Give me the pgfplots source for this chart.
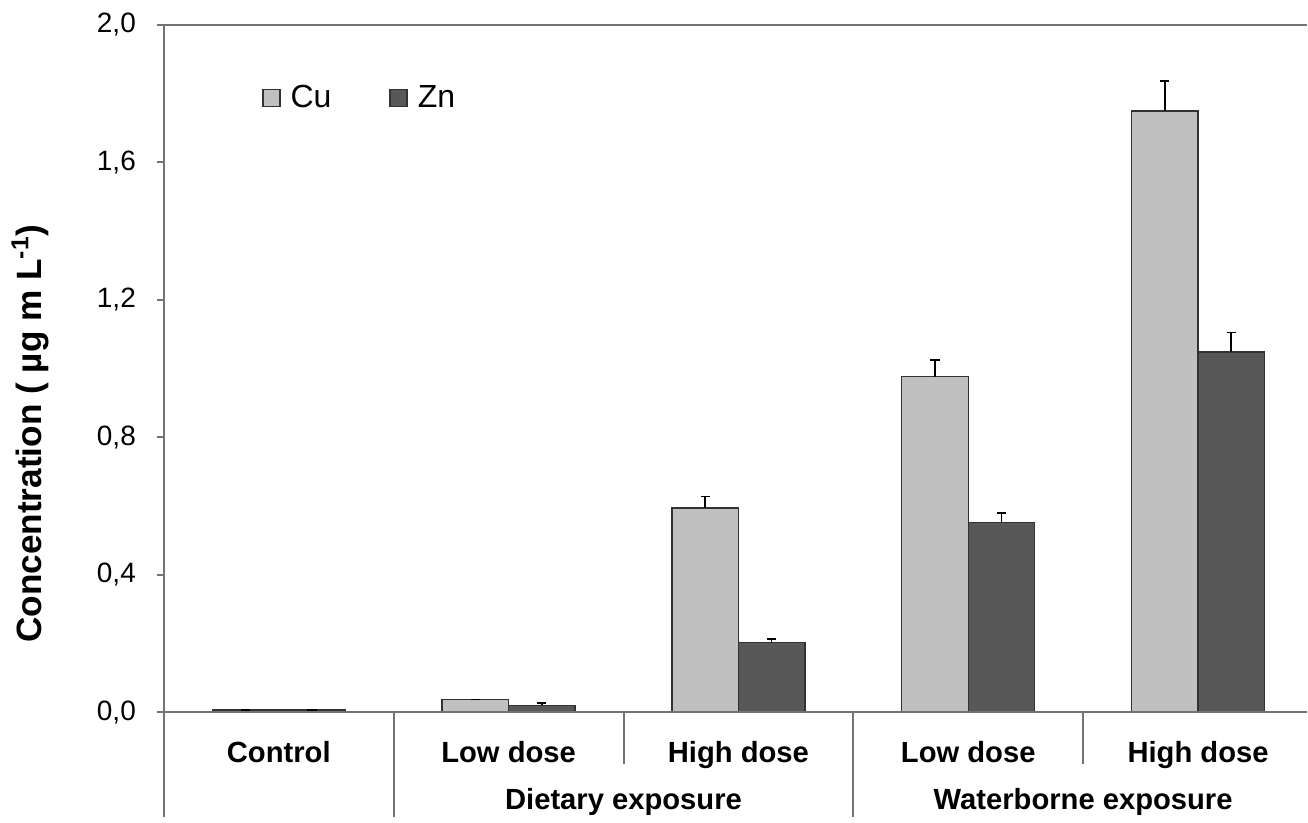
\documentclass[border=0pt]{standalone}
\usepackage{fontspec}
\setmainfont{Liberation Sans}
\usepackage{pgfplots}
\usepackage{pgfplotstable}
\pgfplotsset{compat=1.18}
\definecolor{cucol}{RGB}{192,192,192}
\definecolor{zncol}{RGB}{88,88,88}
\definecolor{axcol}{RGB}{115,115,115}
\definecolor{edgecol}{RGB}{50,50,50}
\pgfplotstableread{
x cu cuerr zn znerr
0 0.007 0 0.007 0
1 0.038 0 0.021 0.006
2 0.595 0.033 0.203 0.011
3 0.977 0.049 0.552 0.029
4 1.750 0.087 1.049 0.056
}\datatable
\begin{document}
\begin{tikzpicture}
\begin{axis}[
  scale only axis,
  width=572pt, height=344pt,
  xmin=-0.5, xmax=4.474,
  ymin=0, ymax=2.0,
  clip=false,
  axis line style={draw=none},
  ybar=0pt,
  bar width=33.25pt,
  ytick={0,0.4,0.8,1.2,1.6,2.0},
  ytick pos=left,
  tick align=outside,
  major tick length=3.5pt,
  y tick style={axcol, line width=1pt},
  yticklabel style={font=\fontsize{14}{16}\selectfont, anchor=east, xshift=-7pt},
  /pgf/number format/.cd, fixed, fixed zerofill, precision=1, use comma, assume math mode=true,
  /pgfplots/.cd,
  xtick={0,1,2,3,4},
  xticklabels={Control, Low dose, High dose, Low dose, High dose},
  x tick style={draw=none},
  xticklabel style={font=\bfseries\fontsize{14.6}{16}\selectfont, anchor=base, yshift=-21.5pt},
  ylabel={\bfseries Concentration ( µg m L\textsuperscript{-1})},
  ylabel style={at={(axis description cs:-0.1171,0.4055)}, anchor=center, font=\fontsize{17.6}{19}\selectfont},
  legend style={at={(axis description cs:0.0857,0.894)}, anchor=west, draw=none, fill=none,
    font=\fontsize{16}{18}\selectfont, inner sep=0pt,
    /tikz/every odd column/.append style={column sep=3pt},
    /tikz/every even column/.append style={column sep=27pt}},
  legend columns=2,
]
\addplot[fill=cucol, draw=edgecol, line width=0.7pt,
  legend image code/.code={\draw[fill=cucol, draw=edgecol, line width=0.7pt] (0pt,-4.25pt) rectangle (8.5pt,4.25pt);},
  error bars/.cd, y dir=plus, y explicit,
  error bar style={black, line width=0.8pt},
  error mark options={black, line width=0.8pt, mark size=2.3pt, rotate=90}]
  table[x=x, y=cu, y error=cuerr] {\datatable};
\addlegendentry{Cu}
\addplot[fill=zncol, draw=edgecol, line width=0.7pt,
  legend image code/.code={\draw[fill=zncol, draw=edgecol, line width=0.7pt] (0pt,-4.25pt) rectangle (8.5pt,4.25pt);},
  error bars/.cd, y dir=plus, y explicit,
  error bar style={black, line width=0.8pt},
  error mark options={black, line width=0.8pt, mark size=2.3pt, rotate=90}]
  table[x=x, y=zn, y error=znerr] {\datatable};
\addlegendentry{Zn}
% frame lines
\draw[axcol, line width=1pt] (axis cs:-0.5,2.0) -- (axis cs:4.474,2.0);
\draw[axcol, line width=1pt] (axis cs:-0.5,2.0) -- (axis cs:-0.5,-0.3052);
\draw[axcol, line width=1pt] (axis cs:-0.5,0) -- (axis cs:4.474,0);
\draw[axcol, line width=1pt] (axis cs:0.5,0) -- (axis cs:0.5,-0.3052);
\draw[axcol, line width=1pt] (axis cs:2.5,0) -- (axis cs:2.5,-0.3052);
\draw[axcol, line width=1pt] (axis cs:1.5,0) -- (axis cs:1.5,-0.151);
\draw[axcol, line width=1pt] (axis cs:3.5,0) -- (axis cs:3.5,-0.151);
% group labels
\node[font=\bfseries\fontsize{14.6}{16}\selectfont, anchor=base, yshift=-48.5pt] at (axis cs:1.5,0) {Dietary exposure};
\node[font=\bfseries\fontsize{14.6}{16}\selectfont, anchor=base, yshift=-48.5pt] at (axis cs:3.5,0) {Waterborne exposure};
% bounding box
\path (axis cs:-1.213,-0.3052) rectangle (axis cs:4.474,2.0727);
\end{axis}
\end{tikzpicture}
\end{document}
